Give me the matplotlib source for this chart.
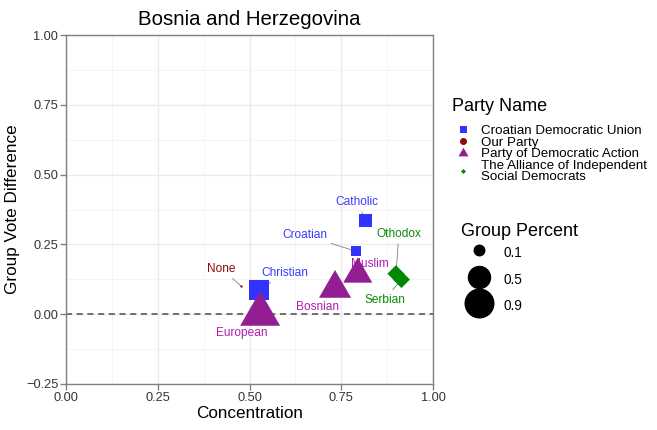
import matplotlib
matplotlib.use('Agg')
import matplotlib.pyplot as plt
from matplotlib.lines import Line2D

plt.rcParams['font.family'] = ['Liberation Sans', 'DejaVu Sans']

# data
groups = ['Catholic', 'Croatian', 'Christian', 'None', 'European',
          'Bosnian', 'Muslim', 'Othodox', 'Serbian']
party = ['Croatian Democratic Union'] * 3 + ['Our Party'] + \
        ['Party of Democratic Action'] * 3 + \
        ['The Alliance of Independent Social Democrats'] * 2
concentration = [0.817, 0.789, 0.527, 0.476, 0.529, 0.733, 0.795, 0.899, 0.914]
vote_diff = [0.337, 0.226, 0.087, 0.102, 0.000, 0.092, 0.143, 0.145, 0.124]
group_pct = [0.165, 0.088, 0.46, 0.002, 0.88, 0.52, 0.41, 0.46, 0.46]

party_names = ['Croatian Democratic Union', 'Our Party',
               'Party of Democratic Action',
               'The Alliance of Independent Social Democrats']
legend_sizes = [0.1, 0.5, 0.9]

# label offsets from the point, in pixels (right, up)
label_offsets = {'Catholic': (-9, 18), 'Croatian': (-51, 16), 'Christian': (25, 17),
                 'None': (-19, 17), 'European': (-18, -19), 'Bosnian': (-18, -18),
                 'Muslim': (12, 10), 'Othodox': (3, 40), 'Serbian': (-17, -20)}
no_segment = ['Muslim']

PX = 0.72  # points per pixel at dpi 100
tri = [(0, 1), (0.866, -0.5), (-0.866, -0.5)]
dia = [(0, 1), (1, 0), (0, -1), (-1, 0)]
# colour, marker, factor from circle diameter to markersize
styles = {
    'Croatian Democratic Union': ('#3333FF', 's', 0.886),
    'Our Party': ('#8B0A0A', 'o', 1.0),
    'Party of Democratic Action': ('#921E92', tri, 1.555),
    'The Alliance of Independent Social Democrats': ('#008800', dia, 0.75),
}
label_colors = {
    'Croatian Democratic Union': '#3A3AFF',
    'Our Party': '#8B0A0A',
    'Party of Democratic Action': '#B01EB0',
    'The Alliance of Independent Social Democrats': '#0A8A0A',
}


def size_px(v):
    # area-like size scale: circle diameter in pixels
    return 30 * (v / 0.9) ** 0.42


fig = plt.figure(figsize=(6.57, 4.3), dpi=100)
ax = fig.add_axes([66 / 657, 1 - 384 / 430, 367 / 657, 349 / 430])

for p in party_names:
    col, mk, f = styles[p]
    idx = [i for i in range(len(groups)) if party[i] == p]
    xs = [concentration[i] for i in idx]
    ys = [vote_diff[i] for i in idx]
    ss = [(size_px(group_pct[i]) * f * PX) ** 2 for i in idx]
    ax.scatter(xs, ys, s=ss, marker=mk, color=col, linewidths=0, zorder=4)

for i, g in enumerate(groups):
    dx, dy = label_offsets[g]
    arrow = None if g in no_segment else dict(arrowstyle='-', color='#808080',
                                               lw=0.6, shrinkA=1, shrinkB=0)
    ax.annotate(g, xy=(concentration[i], vote_diff[i]), xytext=(dx * PX, dy * PX),
                textcoords='offset points', ha='center', va='center',
                fontsize=8.6, color=label_colors[party[i]], zorder=3,
                arrowprops=arrow)

ax.axhline(0, color='#4d4d4d', lw=1.1, ls=(0, (4, 3)), zorder=2)

ax.set_xlim(0, 1)
ax.set_ylim(-0.25, 1.0)
ax.set_xticks([0, 0.25, 0.5, 0.75, 1.0])
ax.set_yticks([-0.25, 0, 0.25, 0.5, 0.75, 1.0])
ax.set_xticks([0.125, 0.375, 0.625, 0.875], minor=True)
ax.set_yticks([-0.125, 0.125, 0.375, 0.625, 0.875], minor=True)
ax.set_xticklabels(['0.00', '0.25', '0.50', '0.75', '1.00'])
ax.set_yticklabels(['\u22120.25', '0.00', '0.25', '0.50', '0.75', '1.00'])
ax.grid(which='major', color='#EBEBEB', lw=1.0, zorder=0)
ax.grid(which='minor', color='#F2F2F2', lw=0.6, zorder=0)
ax.set_axisbelow(True)
for sp in ax.spines.values():
    sp.set_color('#808080')
    sp.set_linewidth(1.0)
ax.tick_params(which='major', length=4, width=1, color='#808080',
               labelsize=9.2, labelcolor='#333333', pad=1.5)
ax.tick_params(which='minor', length=0)

ax.set_xlabel('Concentration', fontsize=12.3, labelpad=2)
ax.set_ylabel('Group Vote Difference', fontsize=12.3, labelpad=4)
ax.set_title('Bosnia and Herzegovina', fontsize=14.7, pad=7)

# legend: party
party_handles = []
key_px = {'Croatian Democratic Union': 7, 'Our Party': 7,
          'Party of Democratic Action': 10, 'The Alliance of Independent Social Democrats': 5}
for p in party_names:
    col, mk, f = styles[p]
    ms = key_px[p] * PX * (1 / 0.866 if mk is tri else 1)
    party_handles.append(Line2D([], [], ls='', marker=mk, color=col,
                                markersize=ms, markeredgewidth=0))
party_labels = ['Croatian Democratic Union', 'Our Party', 'Party of Democratic Action',
                'The Alliance of Independent\nSocial Democrats']
leg1 = fig.legend(party_handles, party_labels, title='Party Name',
                  loc='upper left', bbox_to_anchor=(452 / 657, 1 - 98 / 430),
                  frameon=False, fontsize=9.6, title_fontsize=13,
                  alignment='left', labelspacing=-0.05, handlelength=1.6,
                  handletextpad=0.55, borderpad=0, borderaxespad=0)
leg1._legend_box.sep = 7
for t in leg1.get_texts():
    t.set_linespacing(0.9)

size_handles = [Line2D([], [], ls='', marker='o', color='black',
                       markersize=size_px(v) * PX, markeredgewidth=0)
                for v in legend_sizes]
leg2 = fig.legend(size_handles, [str(v) for v in legend_sizes], title='Group Percent',
                  loc='upper left', bbox_to_anchor=(461 / 657, 1 - 223 / 430),
                  frameon=False, fontsize=9.8, title_fontsize=13,
                  alignment='left', labelspacing=0.55, handlelength=2.65,
                  handleheight=1.8, handletextpad=0.44, borderpad=0, borderaxespad=0)
leg2._legend_box.sep = 2

fig.savefig('out.png', dpi=100)
